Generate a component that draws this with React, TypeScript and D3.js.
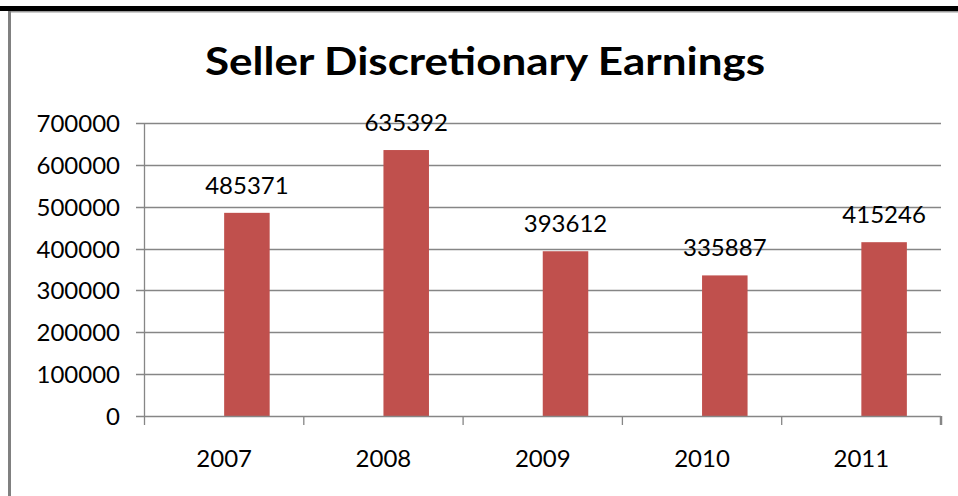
import React from "react";
import * as d3 from "d3";

const years = ["2007", "2008", "2009", "2010", "2011"];
const earnings = [485371, 635392, 393612, 335887, 415246];
const yTicks = [0, 100000, 200000, 300000, 400000, 500000, 600000, 700000];
const title = "Seller Discretionary Earnings";

const W = 958;
const H = 496;
const left = 144.5;
const right = 941;
const bottom = 416;
const top = 123;
const FONT = "Lato, 'Open Sans', sans-serif";

export default function App() {
  const x = d3.scaleBand<string>().domain(years).range([left, right]).padding(0);
  const y = d3.scaleLinear().domain([0, 700000]).range([bottom, top]);
  const bw = x.bandwidth() / 3.5;
  const grid = "#868686";

  return (
    <svg
      width={W}
      height={H}
      style={{ position: "absolute", left: 0, top: 0, background: "#fff" }}
    >
      <rect x={0} y={0} width={W} height={H} fill="#fff" />
      {/* frame */}
      <rect x={0} y={6} width={W} height={5} fill="#000" />
      <rect x={8} y={11} width={W - 8} height={1.5} fill="#9a9a9a" />
      <rect x={8} y={11} width={3} height={H - 11} fill="#808080" />

      {/* title */}
      <text
        x={205}
        y={75}
        fontFamily={FONT}
        fontWeight="bold"
        fontSize={39}
        textLength={560}
        lengthAdjust="spacingAndGlyphs"
        fill="#000"
      >
        {title}
      </text>

      {/* gridlines + y ticks */}
      {yTicks.map((t) => (
        <g key={t}>
          {t > 0 && (
            <line
              x1={136}
              x2={right}
              y1={Math.round(y(t)) + 0.5}
              y2={Math.round(y(t)) + 0.5}
              stroke={grid}
              strokeWidth={1.3}
            />
          )}
          <text
            x={120}
            y={y(t) + 9}
            textAnchor="end"
            fontFamily={FONT}
            fontSize={24}
            fill="#000"
          >
            {t}
          </text>
        </g>
      ))}

      {/* bars */}
      {years.map((yr, i) => {
        const cx = (x(yr) as number) + x.bandwidth() / 2;
        const v = earnings[i];
        return (
          <g key={yr}>
            <rect
              x={cx}
              y={y(v)}
              width={bw}
              height={bottom - y(v)}
              fill="#C0504D"
            />
            <text
              x={cx + bw / 2}
              y={y(v) - 19}
              textAnchor="middle"
              fontFamily={FONT}
              fontSize={24}
              fill="#000"
            >
              {v}
            </text>
            <text
              x={cx}
              y={467}
              textAnchor="middle"
              fontFamily={FONT}
              fontSize={24}
              fill="#000"
            >
              {yr}
            </text>
          </g>
        );
      })}

      {/* axes */}
      <line x1={left} x2={left} y1={top} y2={bottom} stroke={grid} strokeWidth={1.3} />
      <line x1={136} x2={right} y1={bottom + 0.5} y2={bottom + 0.5} stroke={grid} strokeWidth={1.3} />
      {[...years.map((yr) => x(yr) as number), right].map((p, i) => (
        <line
          key={i}
          x1={p}
          x2={p}
          y1={bottom}
          y2={425}
          stroke={grid}
          strokeWidth={i === years.length ? 2.5 : 1.3}
        />
      ))}
    </svg>
  );
}
